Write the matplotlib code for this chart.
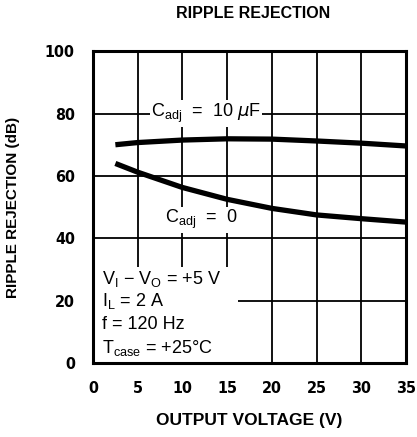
import matplotlib
matplotlib.use("Agg")
import matplotlib.pyplot as plt
from matplotlib.patches import Rectangle
import numpy as np

# Data
v_10uf = [2.5, 5, 10, 15, 20, 25, 30, 35]
rr_10uf = [70.0, 70.7, 71.5, 71.9, 71.8, 71.2, 70.5, 69.6]
v_0 = [2.5, 5, 10, 15, 20, 25, 30, 35]
rr_0 = [64.0, 61.2, 56.3, 52.5, 49.6, 47.5, 46.3, 45.2]

xticks = [0, 5, 10, 15, 20, 25, 30, 35]
yticks = [0, 20, 40, 60, 80, 100]

plt.rcParams['font.family'] = ['Liberation Sans', 'DejaVu Sans']

fig = plt.figure(figsize=(4.17, 4.37), dpi=100)
ax = fig.add_axes([0.223, 0.169, 0.751, 0.714])
ax.set_xlim(0, 35)
ax.set_ylim(0, 100)
ax.set_axisbelow(True)

ax.set_xticks(xticks)
ax.set_yticks(yticks)
tick_kw = dict(fontsize=11.5, fontweight='bold', family='DejaVu Sans', fontstretch='condensed')
ax.set_xticklabels([str(t) for t in xticks], **tick_kw)
ax.set_yticklabels([str(t) for t in yticks], **tick_kw)
ax.tick_params(axis='x', length=0, pad=13)
ax.tick_params(axis='y', length=0, pad=13)
for s in ax.spines.values():
    s.set_linewidth(2.2)
    s.set_color('black')

ax.grid(True, color='black', linewidth=1.3)

# mask grid under the condition box
ax.add_patch(Rectangle((0, 0), 16.2, 30.7, facecolor='white', edgecolor='none', zorder=1))

ax.plot(v_10uf, rr_10uf, color='black', linewidth=3.8, solid_capstyle='butt', zorder=2)
ax.plot(v_0, rr_0, color='black', linewidth=3.8, solid_capstyle='butt', zorder=2)

ax.text(6.5, 80.0, r"C$_\mathregular{adj}$  =  10 $\mu$F", fontsize=13, ha='left', va='center',
        bbox=dict(facecolor='white', edgecolor='none', pad=1.0), zorder=3)
ax.text(8.0, 46.0, r"C$_\mathregular{adj}$  =  0", fontsize=13, ha='left', va='center',
        bbox=dict(facecolor='white', edgecolor='none', pad=1.0), zorder=3)

lines = [r"V$_\mathregular{I}$ − V$_\mathregular{O}$ = +5 V",
         r"I$_\mathregular{L}$ = 2 A",
         r"f = 120 Hz",
         r"T$_\mathregular{case}$ = +25°C"]
ys = [27.0, 20.0, 12.3, 5.0]
for t, y in zip(lines, ys):
    ax.text(1.0, y, t, fontsize=13, ha='left', va='center', zorder=3)

fig.text(0.607, 0.968, "RIPPLE REJECTION", ha='center', va='center', fontsize=11.5,
         fontweight='bold')
ax.set_xlabel("OUTPUT VOLTAGE (V)", fontsize=12.5, fontweight='bold', labelpad=12)
ax.set_ylabel("RIPPLE REJECTION (dB)", fontsize=11, fontweight='bold', labelpad=18)

fig.savefig("out.png", dpi=100)
